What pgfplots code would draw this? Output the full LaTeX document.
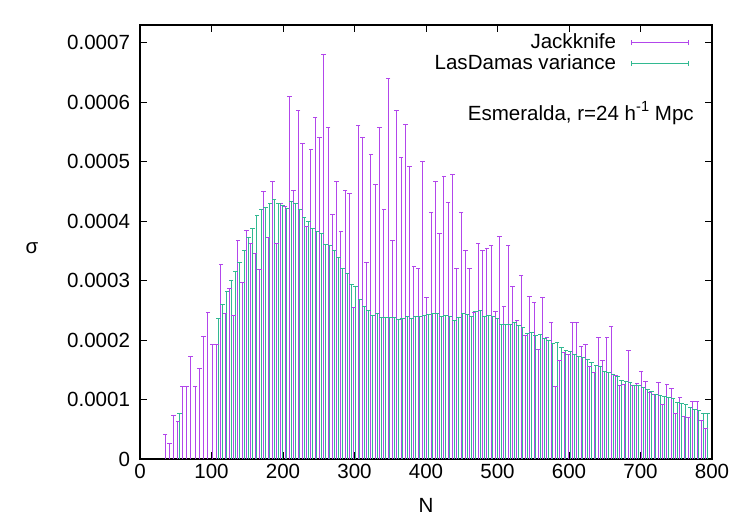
\documentclass[border=0pt]{standalone}
\usepackage{pgfplots}
\usepackage{pgfplotstable}
\usepackage{fontspec}
\setmainfont{Liberation Sans}
\pgfplotsset{compat=1.18}
\definecolor{jk}{RGB}{178,70,235}
\definecolor{ld}{RGB}{50,185,145}

\pgfplotstableread{
N v
35 0.42
41 0.26
47 0.74
53 0.63
59 1.22
65 1.22
71 1.73
77 1.22
83 1.53
89 2.06
95 2.46
101 1.93
107 1.93
113 3.28
119 2.44
125 2.87
131 2.42
137 3.68
143 2.97
149 3.84
155 3.62
161 3.45
167 3.18
173 4.50
179 3.72
185 4.66
191 3.62
197 4.29
203 4.25
209 6.10
215 4.51
221 5.87
227 5.30
233 3.91
239 5.20
245 5.75
251 5.40
257 6.80
263 5.57
269 4.11
275 4.66
281 3.82
287 4.51
293 4.46
299 2.55
305 5.61
311 5.40
317 3.30
323 5.13
329 4.61
335 5.58
341 4.19
347 6.40
353 3.68
359 5.87
365 5.08
371 5.63
377 4.92
383 3.24
389 3.21
395 5.00
401 2.72
407 4.15
413 4.66
419 3.80
425 4.75
431 4.31
437 4.78
443 3.21
449 4.15
455 3.51
461 3.20
467 2.47
473 3.62
479 3.51
485 3.54
491 3.60
497 2.48
503 3.74
509 2.57
515 3.59
521 2.90
527 2.33
533 3.09
539 2.07
545 2.74
551 2.64
557 1.84
563 2.72
569 2.05
575 2.30
581 1.22
587 1.66
593 1.80
599 1.75
605 2.29
611 2.29
617 1.89
623 1.93
629 1.55
635 1.45
641 2.05
647 1.65
653 2.05
659 2.23
665 1.40
671 1.23
677 1.25
683 1.83
689 1.23
695 1.27
701 1.48
707 1.31
713 1.12
719 1.09
725 1.28
731 0.91
737 1.25
743 1.19
749 0.77
755 1.03
761 0.72
767 0.70
773 0.96
779 0.96
785 0.65
791 0.52
}\jackknife

\pgfplotstableread{
N v
55.5 0.76
109.5 2.37
115.5 2.60
121.5 2.81
127.5 3.01
133.5 3.16
139.5 3.31
145.5 3.51
151.5 3.72
157.5 3.88
163.5 4.09
169.5 4.19
175.5 4.23
181.5 4.30
187.5 4.36
193.5 4.30
199.5 4.26
205.5 4.21
211.5 4.33
217.5 4.30
223.5 4.19
229.5 4.06
235.5 4.00
241.5 3.88
247.5 3.83
253.5 3.79
259.5 3.61
265.5 3.59
271.5 3.51
277.5 3.39
283.5 3.20
289.5 3.12
295.5 2.94
301.5 2.90
307.5 2.69
313.5 2.56
319.5 2.49
325.5 2.42
331.5 2.45
337.5 2.38
343.5 2.38
349.5 2.38
355.5 2.38
361.5 2.35
367.5 2.36
373.5 2.40
379.5 2.36
385.5 2.39
391.5 2.40
397.5 2.42
403.5 2.43
409.5 2.45
415.5 2.44
421.5 2.40
427.5 2.41
433.5 2.40
439.5 2.33
445.5 2.38
451.5 2.45
457.5 2.43
463.5 2.40
469.5 2.48
475.5 2.50
481.5 2.39
487.5 2.41
493.5 2.39
499.5 2.37
505.5 2.27
511.5 2.26
517.5 2.26
523.5 2.29
529.5 2.25
535.5 2.21
541.5 2.11
547.5 2.13
553.5 2.07
559.5 2.10
565.5 2.03
571.5 2.00
577.5 1.95
583.5 1.96
589.5 1.87
595.5 1.82
601.5 1.81
607.5 1.76
613.5 1.72
619.5 1.70
625.5 1.68
631.5 1.63
637.5 1.58
643.5 1.55
649.5 1.48
655.5 1.45
661.5 1.42
667.5 1.39
673.5 1.32
679.5 1.30
685.5 1.28
691.5 1.23
697.5 1.23
703.5 1.21
709.5 1.17
715.5 1.13
721.5 1.08
727.5 1.07
733.5 1.06
739.5 1.03
745.5 1.02
751.5 0.95
757.5 0.94
763.5 0.91
769.5 0.86
775.5 0.83
781.5 0.82
787.5 0.76
793.5 0.76
}\lasdamas

\begin{document}
\begin{tikzpicture}
\begin{axis}[
  name=ax,
  scale only axis,
  width=429pt, height=325.5pt,
  xmin=0, xmax=800, ymin=0, ymax=0.00073,
  xtick={0,100,...,800},
  ytick={0,0.0001,0.0002,0.0003,0.0004,0.0005,0.0006,0.0007},
  yticklabels={0,0.0001,0.0002,0.0003,0.0004,0.0005,0.0006,0.0007},
  scaled y ticks=false,
  tick align=inside,
  major tick length=5pt,
  axis line style={line width=0.8pt},
  every tick/.style={black, line width=0.6pt},
  /pgf/number format/assume math mode=true,
  font=\fontsize{15.4}{18}\selectfont,
  yticklabel style={xshift=-4pt},
  xlabel={N}, ylabel={σ},
  ylabel style={rotate=-90, anchor=center, at={(-0.189,0.485)}},
  xlabel style={yshift=-8pt},
  legend plot pos=right,
  legend cell align=right,
  legend style={at={(1,1)}, anchor=north east, xshift=-14pt, yshift=-2.5pt,
    draw=none, fill=none, row sep=-1pt,
    /tikz/column 1/.style={column sep=9pt},
    font=\fontsize{15.4}{18}\selectfont},
]
\addplot[ycomb, color=jk, line width=0.7pt, mark=-, mark size=1.7pt, mark options={solid, line width=0.7pt},
  legend image code/.code={\draw[jk, line width=0.7pt] (0pt,0pt) -- (43pt,0pt); \draw[jk, line width=0.7pt] (0pt,-2pt) -- (0pt,2pt); \draw[jk, line width=0.7pt] (43pt,-2pt) -- (43pt,2pt);}]
  table[x=N, y expr=\thisrow{v}*0.0001] {\jackknife};
\addlegendentry{Jackknife}
\addplot[ycomb, color=ld, line width=0.7pt, mark=-, mark size=1.7pt, mark options={solid, line width=0.7pt},
  legend image code/.code={\draw[ld, line width=0.7pt] (0pt,0pt) -- (43pt,0pt); \draw[ld, line width=0.7pt] (0pt,-2pt) -- (0pt,2pt); \draw[ld, line width=0.7pt] (43pt,-2pt) -- (43pt,2pt);}]
  table[x=N, y expr=\thisrow{v}*0.0001] {\lasdamas};
\addlegendentry{LasDamas variance}
\node[anchor=east] at (axis cs:781,0.000582) {Esmeralda, r=24 h\raisebox{0.8ex}{\fontsize{11}{12}\selectfont -1} Mpc};
\end{axis}
\path ([xshift=-105pt,yshift=-49.5pt]ax.south west) rectangle ([xshift=28.5pt,yshift=18.75pt]ax.north east);
\end{tikzpicture}
\end{document}
